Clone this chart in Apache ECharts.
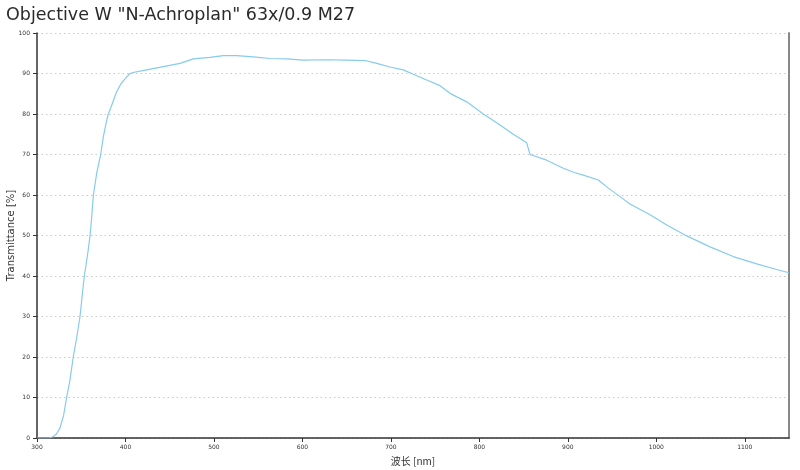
<!DOCTYPE html>
<html><head><meta charset="utf-8">
<script src="https://cdn.jsdelivr.net/npm/echarts@6/dist/echarts.min.js"></script>
<style>html,body{margin:0;padding:0;background:#fff}#c{width:800px;height:470px}</style>
</head><body><div id="c"></div>
<script>
const titleText = 'Objective W "N-Achroplan" 63x/0.9 M27';
const xName = '波长 [nm]';
const yName = 'Transmittance [%]';
const wavelength = [300,305,310,314,318,322,326,330,333.5,337,341,345,348.6,351,353.5,357,360,362,363.7,367.5,372,375,378.8,380.6,383.3,390,395,400,405,410,424,442.8,461.6,476.7,495.5,510.6,525.7,544.5,563.4,582.2,601,627.5,650,670.8,684,699,714,725.4,740.5,755.5,766.8,785.7,804.5,823.4,838.4,853.5,855.5,857.3,876.1,894.9,908.1,917.5,934.5,945.8,959,970.3,992.9,1011.8,1034.4,1060.7,1087,1113.5,1136,1150];
const transmittance = [0,0,0,0,0.3,1,2.5,5.5,10,14,20,25,30,35,40,45,50,55,60,65.4,70,74.4,78.5,80,81.5,85.5,87.5,88.8,90,90.3,90.9,91.7,92.5,93.6,94,94.4,94.4,94.1,93.7,93.6,93.3,93.4,93.3,93.2,92.5,91.6,90.9,89.8,88.4,87,85.1,83,80,77.3,75,72.9,72.5,70,68.6,66.6,65.5,64.9,63.7,61.7,59.6,57.8,55.1,52.6,49.9,47.2,44.8,43,41.6,40.8];
const xTicks = {min:300, max:1150, interval:100};
const yTicks = {min:0, max:100, interval:10};

const chart = echarts.init(document.getElementById('c'), null, {renderer:'canvas'});
const tickFont = {fontSize:6, color:'#333', fontFamily:'DejaVu Sans'};
chart.setOption({
  animation:false,
  backgroundColor:'#fff',
  title:{text:titleText, left:1, top:1,
    textStyle:{fontSize:17.5, fontWeight:'normal', color:'#2a2a2a', fontFamily:'DejaVu Sans'}},
  grid:{left:37, right:11, top:33, bottom:32, containLabel:false, outerBoundsMode:'none'},
  xAxis:{type:'value', min:xTicks.min, max:xTicks.max, interval:xTicks.interval,
    name:xName, nameLocation:'middle', nameGap:18, nameMoveOverlap:false,
    nameTextStyle:{fontSize:10, color:'#333', fontFamily:'Noto Sans CJK SC'},
    axisLine:{lineStyle:{color:'#333', width:1.5}},
    axisTick:{show:true, length:4, lineStyle:{color:'#333'}},
    axisLabel:Object.assign({margin:6, showMaxLabel:false, formatter:v=>String(v)}, tickFont),
    splitLine:{show:false}},
  yAxis:[{type:'value', min:yTicks.min, max:yTicks.max, interval:yTicks.interval,
    name:yName, nameLocation:'middle', nameGap:21, nameMoveOverlap:false,
    nameTextStyle:{fontSize:10, color:'#333', fontFamily:'DejaVu Sans'},
    axisLine:{show:true, lineStyle:{color:'#333', width:1.5}},
    axisTick:{show:true, length:4, lineStyle:{color:'#333'}},
    axisLabel:Object.assign({margin:7, formatter:v=>String(v)}, tickFont),
    splitLine:{show:true, lineStyle:{color:'#c8c8c8', type:[1.5,3], width:1}}},
   {type:'value', position:'right', min:yTicks.min, max:yTicks.max, interval:yTicks.interval,
    axisLine:{show:true, lineStyle:{color:'#888', width:2}},
    axisTick:{show:false}, axisLabel:{show:false}, splitLine:{show:false}}],
  series:[{type:'line', showSymbol:false, symbol:'none',
    data:wavelength.map((w,i)=>[w, transmittance[i]]),
    lineStyle:{color:'#86cbec', width:1.2}}]
});
</script></body></html>
